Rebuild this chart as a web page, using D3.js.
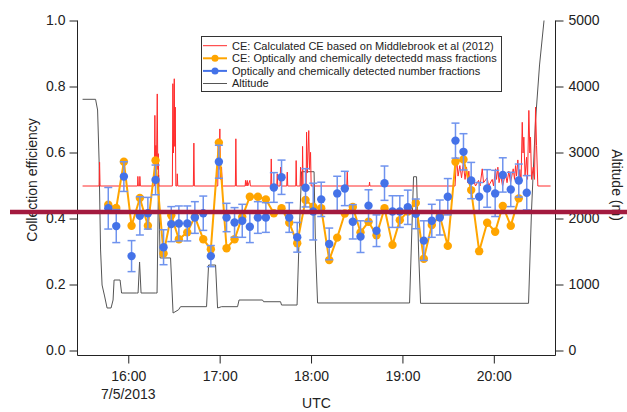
<!DOCTYPE html>
<html>
<head>
<meta charset="utf-8">
<script src="https://cdn.jsdelivr.net/npm/d3@7/dist/d3.min.js"></script>
<style>
  body { margin: 0; background: #fff; }
  svg text { font-family: "Liberation Sans", Arial, sans-serif; fill: #222; }
</style>
</head>
<body>
<div id="chart"></div>
<script>
// AMS collection efficiency, flight of 7/5/2013 (UTC)
const sampleTime = [
  "15:46:52", "15:52:07", "15:57:07", "16:02:10", "16:07:37", "16:12:52", "16:17:55", "16:23:10",
  "16:28:14", "16:33:13", "16:38:44", "16:43:43", "16:49:14", "16:54:13", "16:59:29", "17:04:32",
  "17:09:47", "17:14:50", "17:19:49", "17:25:05", "17:30:20", "17:35:35", "17:40:38", "17:45:41",
  "17:50:56", "17:56:23", "18:01:26", "18:06:41", "18:11:56", "18:17:11", "18:22:10", "18:27:25",
  "18:32:29", "18:37:44", "18:42:59", "18:48:14", "18:53:29", "18:58:17", "19:03:32", "19:08:47",
  "19:14:02", "19:19:17", "19:24:32", "19:29:47", "19:34:50", "19:40:05", "19:45:08", "19:50:23",
  "19:55:38", "20:00:53", "20:05:53", "20:11:08", "20:16:23", "20:21:38"
];

// CE from mass fractions (orange)
const massCE = [
  0.442, 0.432, 0.572, 0.378, 0.462, 0.378, 0.576, 0.294,
  0.410, 0.337, 0.358, 0.405, 0.337, 0.307, 0.630, 0.310,
  0.337, 0.405, 0.466, 0.466, 0.458, 0.416, 0.431, 0.387,
  0.325, 0.456, 0.436, 0.431, 0.274, 0.342, 0.415, 0.435,
  0.358, 0.390, 0.349, 0.431, 0.320, 0.395, 0.421, 0.447,
  0.278, 0.380, 0.408, 0.317, 0.572, 0.579, 0.486, 0.301,
  0.387, 0.360, 0.438, 0.378, 0.461, null
];

// number fractions (blue) and their error bars
const numberCE = [
  0.431, 0.377, 0.527, 0.286, 0.408, 0.416, 0.517, 0.313,
  0.383, 0.385, 0.385, 0.403, 0.416, 0.286, 0.572, 0.403,
  0.388, 0.393, 0.375, 0.403, 0.403, 0.494, 0.525, 0.403,
  0.343, 0.493, 0.421, 0.458, 0.323, 0.476, 0.491, 0.390,
  0.345, 0.439, 0.363, 0.507, 0.421, 0.421, 0.434, 0.414,
  0.333, 0.393, 0.403, 0.466, 0.636, 0.602, 0.515, 0.466,
  0.491, 0.476, 0.532, 0.488, 0.515, 0.478
];
const numberErr = [
  0.063, 0.050, 0.045, 0.047, 0.058, 0.048, 0.045, 0.053,
  0.053, 0.053, 0.053, 0.048, 0.052, 0.032, 0.050, 0.043,
  0.045, 0.050, 0.048, 0.048, 0.045, 0.045, 0.052, 0.045,
  0.045, 0.058, 0.086, 0.052, 0.048, 0.052, 0.052, 0.052,
  0.048, 0.048, 0.048, 0.052, 0.048, 0.048, 0.052, 0.045,
  0.060, 0.050, 0.053, 0.055, 0.053, 0.055, 0.055, 0.043,
  0.057, 0.070, 0.052, 0.052, 0.050, 0.052
];

// calculated CE (Middlebrook et al 2012), red
const calcTime = [
  "15:30:00", "15:40:50", "15:41:10", "15:41:29", "16:06:06", "16:06:18", "16:06:38", "16:07:25",
  "16:07:37", "16:07:57", "16:17:08", "16:17:28", "16:17:47", "16:18:07", "16:18:27", "16:19:02",
  "16:19:22", "16:19:42", "16:20:05", "16:28:57", "16:29:17", "16:29:40", "16:30:12", "16:30:32",
  "16:30:51", "16:31:15", "16:31:54", "16:32:10", "16:32:30", "16:42:44", "16:43:04", "16:43:24",
  "16:58:45", "16:59:05", "16:59:37", "17:00:08", "17:00:36", "17:01:15", "17:01:47", "17:10:19",
  "17:10:38", "17:10:58", "17:16:45", "17:17:00", "17:17:20", "17:18:07", "17:18:27", "17:19:50",
  "17:20:10", "17:33:33", "17:33:53", "17:34:13", "17:37:29", "17:37:49", "17:38:09", "17:39:39",
  "17:39:59", "17:40:19", "17:44:03", "17:44:23", "17:44:43", "17:49:58", "17:50:13", "17:50:33",
  "17:52:47", "17:53:07", "17:53:31", "17:54:14", "17:54:26", "17:54:49", "17:56:48", "17:57:03",
  "17:57:35", "17:58:30", "17:59:02", "17:59:41", "18:00:05", "18:23:27", "18:23:47", "18:24:07",
  "18:38:09", "18:38:25", "18:38:40", "19:34:33", "19:35:32", "19:36:31", "19:37:42", "19:38:49",
  "19:39:56", "19:41:07", "19:42:06", "19:42:53", "19:43:36", "19:44:24", "19:46:41", "19:48:00",
  "19:49:58", "19:50:57", "19:52:24", "19:53:15", "19:55:41", "19:56:32", "19:58:58", "19:59:49",
  "20:01:08", "20:01:47", "20:02:39", "20:03:26", "20:04:25", "20:05:44", "20:07:42", "20:08:41",
  "20:09:52", "20:10:59", "20:12:45", "20:13:36", "20:14:16", "20:14:55", "20:15:46", "20:16:34",
  "20:17:05", "20:17:52", "20:18:40", "20:19:11", "20:19:43", "20:20:30", "20:21:29", "20:22:08",
  "20:23:00", "20:23:39", "20:24:06", "20:24:46", "20:25:53", "20:26:44", "20:27:24", "20:28:03",
  "20:28:54", "20:37:15"
];
const calcCE = [
  0.5, 0.5, 0.572, 0.5, 0.5, 0.529, 0.5, 0.5,
  0.529, 0.5, 0.5, 0.714, 0.5, 0.623, 0.52, 0.779,
  0.55, 0.598, 0.5, 0.5, 0.81, 0.6, 0.825, 0.62,
  0.739, 0.5, 0.5, 0.537, 0.5, 0.5, 0.63, 0.5,
  0.5, 0.643, 0.55, 0.673, 0.52, 0.557, 0.5, 0.5,
  0.643, 0.5, 0.5, 0.517, 0.5, 0.517, 0.5, 0.517,
  0.5, 0.5, 0.582, 0.5, 0.5, 0.537, 0.5, 0.5,
  0.557, 0.5, 0.5, 0.542, 0.5, 0.5, 0.577, 0.5,
  0.5, 0.557, 0.5, 0.5, 0.62, 0.5, 0.5, 0.663,
  0.54, 0.668, 0.55, 0.602, 0.5, 0.5, 0.542, 0.5,
  0.5, 0.512, 0.5, 0.5, 0.587, 0.53, 0.562, 0.525,
  0.569, 0.52, 0.557, 0.51, 0.545, 0.5, 0.517, 0.5,
  0.517, 0.5, 0.552, 0.51, 0.525, 0.5, 0.52, 0.5,
  0.552, 0.52, 0.557, 0.51, 0.535, 0.5, 0.538, 0.51,
  0.545, 0.51, 0.552, 0.52, 0.562, 0.53, 0.579, 0.52,
  0.55, 0.51, 0.693, 0.6, 0.648, 0.53, 0.587, 0.52,
  0.729, 0.6, 0.648, 0.52, 0.557, 0.52, 0.739, 0.623,
  0.5, 0.5
];

// aircraft altitude (m)
const altTime = [
  "15:30:00", "15:38:32", "15:39:51", "15:40:50", "15:41:49", "15:42:48", "15:44:26", "15:46:05",
  "15:48:42", "15:50:01", "15:50:41", "15:54:37", "15:55:36", "16:05:27", "16:06:26", "16:07:25",
  "16:08:24", "16:17:55", "16:18:54", "16:19:54", "16:20:53", "16:27:46", "16:29:25", "16:33:01",
  "16:34:20", "16:51:24", "16:52:43", "16:57:19", "16:58:38", "17:01:15", "17:11:45", "17:12:44",
  "17:28:10", "17:28:50", "17:39:59", "17:40:38", "17:50:49", "17:52:08", "17:53:46", "18:01:59",
  "18:02:58", "18:04:17", "19:04:41", "19:05:59", "19:07:18", "19:09:16", "19:10:35", "19:11:54",
  "20:22:48", "20:24:46", "20:27:24", "20:30:01", "20:32:58"
];
const altitude = [
  3806, 3806, 3644, 2886, 1523, 992, 826, 644,
  644, 765, 1068, 1068, 871, 871, 871, 1341,
  871, 871, 871, 2659, 1402, 1402, 568, 617,
  664, 664, 1295, 1295, 644, 664, 664, 765,
  765, 739, 739, 689, 689, 1674, 2709, 2709,
  1523, 720, 720, 1674, 2633, 2633, 1523, 715,
  715, 2129, 3492, 4326, 5000
];

const ceTicks = [0, 0.2, 0.4, 0.6, 0.8, 1.0];
const altTicks = [0, 1000, 2000, 3000, 4000, 5000];
const hourTicks = ["16:00:00", "17:00:00", "18:00:00", "19:00:00", "20:00:00"];
const legendLabels = [
  "CE: Calculated CE based on Middlebrook et al (2012)",
  "CE: Optically and chemically detectedd mass fractions",
  "Optically and chemically detected number fractions",
  "Altitude"
];

class CEChart {
  constructor(parentElement) {
    this.config = {
      parentElement: parentElement,
      width: 627,
      height: 412,
      left: 77.5,
      right: 555.5,
      top: 20.5,
      bottom: 350.5,
      axisY: 355.5,
      calcColor: "#ff2a2a",
      massColor: "#ffa500",
      numberColor: "#4472e8",
      errColor: "#6f93ee",
      altColor: "#555555",
    };
    this.parseTime = d3.timeParse("%H:%M:%S");
    this.initVis();
  }

  initVis() {
    const vis = this;
    vis.svg = d3
      .select(vis.config.parentElement)
      .append("svg")
      .attr("width", vis.config.width)
      .attr("height", vis.config.height);

    vis.createScales();
    vis.drawAxes();
    vis.drawAltitude();
    vis.drawCalc();
    vis.drawMass();
    vis.drawNumber();
    vis.drawLegend();
    vis.drawMarkerLine();
  }

  createScales() {
    const vis = this;
    vis.x = d3
      .scaleTime()
      .domain([vis.parseTime("15:26:40"), vis.parseTime("20:40:30")])
      .range([vis.config.left, vis.config.right]);
    vis.y = d3.scaleLinear().domain([0, 1]).range([vis.config.bottom, vis.config.top]);
    vis.yAlt = d3.scaleLinear().domain([0, 5000]).range([vis.config.bottom, vis.config.top]);
  }

  drawAxes() {
    const vis = this;
    const c = vis.config;

    const left = vis.svg
      .append("g")
      .attr("transform", `translate(${c.left},0)`)
      .call(
        d3.axisLeft(vis.y).tickValues(ceTicks).tickFormat(d3.format(".1f"))
          .tickSize(8).tickSizeOuter(0).tickPadding(4)
      );

    const right = vis.svg
      .append("g")
      .attr("transform", `translate(${c.right},0)`)
      .call(
        d3.axisRight(vis.yAlt).tickValues(altTicks).tickFormat(d3.format("d"))
          .tickSize(8).tickSizeOuter(0).tickPadding(5)
      );

    const bottom = vis.svg
      .append("g")
      .attr("transform", `translate(0,${c.axisY})`)
      .call(
        d3.axisBottom(vis.x).tickValues(hourTicks.map(vis.parseTime))
          .tickFormat(d3.timeFormat("%H:%M")).tickSize(8).tickSizeOuter(0).tickPadding(8)
      );

    [left, right, bottom].forEach((g) => {
      g.select(".domain").remove();
      g.selectAll(".tick line").attr("stroke", "#222");
      g.selectAll(".tick text").attr("font-size", 14).attr("fill", "#222");
      g.attr("font-family", null);
    });

    // axis frame: left, bottom, right (no top)
    vis.svg.append("path")
      .attr("d", `M${c.left},${c.top}V${c.axisY}H${c.right}V${c.top}`)
      .attr("fill", "none")
      .attr("stroke", "#222")
      .attr("stroke-width", 1);

    vis.svg.append("text")
      .attr("x", vis.x(vis.parseTime(hourTicks[0])))
      .attr("y", 398.5)
      .attr("text-anchor", "middle")
      .attr("font-size", 14)
      .text("7/5/2013");

    vis.svg.append("text")
      .attr("x", (c.left + c.right) / 2)
      .attr("y", 408)
      .attr("text-anchor", "middle")
      .attr("font-size", 14)
      .text("UTC");

    vis.svg.append("text")
      .attr("transform", "translate(36.5,180) rotate(-90)")
      .attr("text-anchor", "middle")
      .attr("font-size", 14)
      .text("Collection efficiency");

    vis.svg.append("text")
      .attr("transform", "translate(612,185) rotate(90)")
      .attr("text-anchor", "middle")
      .attr("font-size", 14)
      .text("Altitude (m)");
  }

  drawAltitude() {
    const vis = this;
    const line = d3.line()
      .x((d, i) => vis.x(vis.parseTime(altTime[i])))
      .y((d) => vis.yAlt(d));
    vis.svg.append("path")
      .datum(altitude)
      .attr("d", line)
      .attr("fill", "none")
      .attr("stroke", vis.config.altColor)
      .attr("stroke-width", 1);
  }

  drawCalc() {
    const vis = this;
    const line = d3.line()
      .x((d, i) => vis.x(vis.parseTime(calcTime[i])))
      .y((d) => vis.y(d));
    // half-pixel shift so the thin baseline renders soft like the original
    vis.svg.append("path")
      .datum(calcCE)
      .attr("d", line)
      .attr("transform", "translate(0,0.5)")
      .attr("fill", "none")
      .attr("stroke", vis.config.calcColor)
      .attr("stroke-width", 1)
      .attr("stroke-linejoin", "round");
  }

  drawMass() {
    const vis = this;
    const pts = massCE
      .map((v, i) => ({ t: vis.parseTime(sampleTime[i]), v: v }))
      .filter((d) => d.v !== null);

    vis.svg.append("path")
      .datum(pts)
      .attr("d", d3.line().x((d) => vis.x(d.t)).y((d) => vis.y(d.v)))
      .attr("fill", "none")
      .attr("stroke", vis.config.massColor)
      .attr("stroke-width", 2);

    vis.svg.selectAll(".mass-dot")
      .data(pts)
      .enter()
      .append("circle")
      .attr("class", "mass-dot")
      .attr("cx", (d) => vis.x(d.t))
      .attr("cy", (d) => vis.y(d.v))
      .attr("r", 4.2)
      .attr("fill", vis.config.massColor);
  }

  drawNumber() {
    const vis = this;
    const pts = numberCE.map((v, i) => ({
      t: vis.parseTime(sampleTime[i]),
      v: v,
      e: numberErr[i],
    }));

    const err = vis.svg.selectAll(".err")
      .data(pts)
      .enter()
      .append("g")
      .attr("class", "err")
      .attr("stroke", vis.config.errColor)
      .attr("stroke-width", 1.5);

    err.append("line")
      .attr("x1", (d) => vis.x(d.t))
      .attr("x2", (d) => vis.x(d.t))
      .attr("y1", (d) => vis.y(d.v - d.e))
      .attr("y2", (d) => vis.y(d.v + d.e));
    err.append("line")
      .attr("x1", (d) => vis.x(d.t) - 4)
      .attr("x2", (d) => vis.x(d.t) + 4)
      .attr("y1", (d) => vis.y(d.v + d.e))
      .attr("y2", (d) => vis.y(d.v + d.e));
    err.append("line")
      .attr("x1", (d) => vis.x(d.t) - 4)
      .attr("x2", (d) => vis.x(d.t) + 4)
      .attr("y1", (d) => vis.y(d.v - d.e))
      .attr("y2", (d) => vis.y(d.v - d.e));

    vis.svg.selectAll(".num-dot")
      .data(pts)
      .enter()
      .append("circle")
      .attr("class", "num-dot")
      .attr("cx", (d) => vis.x(d.t))
      .attr("cy", (d) => vis.y(d.v))
      .attr("r", 4.2)
      .attr("fill", vis.config.numberColor);
  }

  drawLegend() {
    const vis = this;
    const c = vis.config;
    const g = vis.svg.append("g");

    g.append("rect")
      .attr("x", 201.5)
      .attr("y", 36.5)
      .attr("width", 300)
      .attr("height", 55)
      .attr("fill", "#fff")
      .attr("stroke", "#333")
      .attr("stroke-width", 1);

    const colors = [c.calcColor, c.massColor, c.numberColor, c.altColor];
    const rows = g.selectAll(".row")
      .data(legendLabels)
      .enter()
      .append("g")
      .attr("transform", (d, i) => `translate(203,${45.7 + i * 12.6})`);

    rows.append("line")
      .attr("x1", 0)
      .attr("x2", 24)
      .attr("stroke", (d, i) => colors[i])
      .attr("stroke-width", (d, i) => (i === 1 || i === 2 ? 2 : 1));

    rows.filter((d, i) => i === 1 || i === 2)
      .append("circle")
      .attr("cx", 12)
      .attr("r", 3.5)
      .attr("fill", (d) => (d === legendLabels[1] ? c.massColor : c.numberColor));

    rows.append("text")
      .attr("x", 29)
      .attr("dy", "0.35em")
      .attr("font-size", 11)
      .text((d) => d);
  }

  drawMarkerLine() {
    // thick highlight line across the figure near CE = 0.42
    const vis = this;
    vis.svg.append("line")
      .attr("x1", 10)
      .attr("x2", 627)
      .attr("y1", 212)
      .attr("y2", 212)
      .attr("stroke", "#a31a3f")
      .attr("stroke-width", 4.5);
  }
}

new CEChart("#chart");
</script>
</body>
</html>
